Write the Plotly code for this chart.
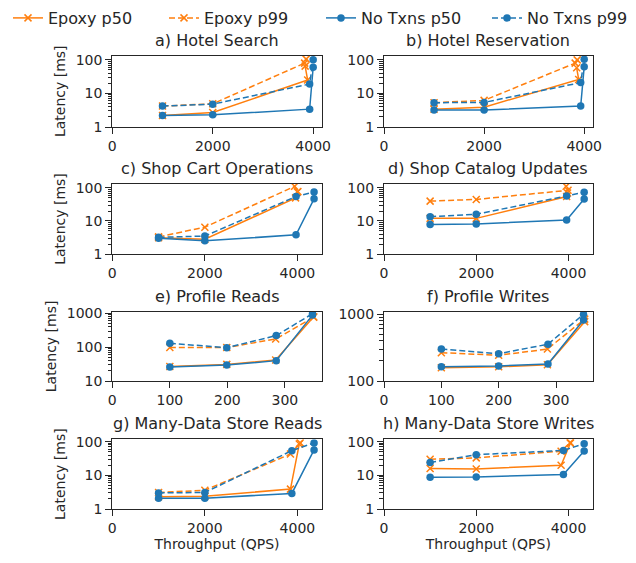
import math
import plotly.graph_objects as go
from plotly.subplots import make_subplots

# ---------------- data ----------------
titles = ["a) Hotel Search", "b) Hotel Reservation", "c) Shop Cart Operations",
          "d) Shop Catalog Updates", "e) Profile Reads", "f) Profile Writes",
          "g) Many-Data Store Reads", "h) Many-Data Store Writes"]
series_names = ["Epoxy p50", "Epoxy p99", "No Txns p50", "No Txns p99"]

# a) Hotel Search
a_x_ep50 = [1000, 2000, 3890, 3840]
a_ep50 = [2.2, 2.7, 25, 65]
a_x_ep99 = [1000, 2000, 3830, 3860]
a_ep99 = [4.2, 4.9, 80, 105]
a_x_nt = [1000, 2000, 3930, 4000]
a_nt50 = [2.2, 2.3, 3.4, 60]
a_nt99 = [4.2, 4.8, 19, 100]

# b) Hotel Reservation
b_x_ep50 = [1000, 2000, 3890, 3850]
b_ep50 = [3.4, 3.9, 26, 58]
b_x_ep99 = [1000, 2000, 3820, 3860]
b_ep99 = [5.3, 6.2, 80, 100]
b_x_nt = [1000, 2000, 3930, 4000]
b_nt50 = [3.2, 3.2, 4.2, 62]
b_nt99 = [5.3, 5.4, 21, 105]

# c) Shop Cart Operations
c_x_ep50 = [1000, 2000, 3960, 4000]
c_ep50 = [3.1, 2.8, 50, 75]
c_x_ep99 = [1000, 2000, 3940, 4010]
c_ep99 = [3.3, 6.5, 112, 78]
c_x_nt = [1000, 2000, 3970, 4360]
c_nt50 = [3.0, 2.5, 3.8, 47]
c_nt99 = [3.2, 3.5, 55, 76]

# d) Shop Catalog Updates
d_x_ep50 = [1000, 2000, 3960, 3980]
d_ep50 = [12, 12, 55, 70]
d_x_ep99 = [1000, 2000, 3990, 3950]
d_ep99 = [40, 45, 85, 112]
d_x_nt = [1000, 2000, 3960, 4340]
d_nt50 = [7.8, 8.1, 10.7, 46]
d_nt99 = [13.5, 16, 57, 74]

# e) Profile Reads
e_x_ep50 = [100, 199, 284, 350]
e_ep50 = [27, 31, 42, 800]
e_x_ep99 = [100, 199, 284, 350]
e_ep99 = [98, 98, 175, 770]
e_x_nt = [100, 199, 285, 348]
e_nt50 = [26, 29.5, 40, 890]
e_nt99 = [130, 97, 220, 980]

# f) Profile Writes
f_x_ep50 = [100, 200, 285, 350]
f_ep50 = [158, 163, 175, 770]
f_x_ep99 = [100, 200, 285, 350]
f_ep99 = [265, 242, 300, 840]
f_x_nt = [100, 200, 286, 348]
f_nt50 = [163, 168, 180, 815]
f_nt99 = [300, 256, 354, 990]

# g) Many-Data Store Reads
g_x_ep50 = [1000, 2000, 3850, 4040]
g_ep50 = [2.3, 2.4, 3.9, 85]
g_x_ep99 = [1000, 2000, 3850, 4060]
g_ep99 = [3.1, 3.6, 43, 92]
g_x_nt = [1000, 2000, 3880, 4360]
g_nt50 = [2.1, 2.1, 2.9, 57]
g_nt99 = [3.0, 3.1, 54, 92]

# h) Many-Data Store Writes
h_x_ep50 = [1000, 2000, 3840, 4040]
h_ep50 = [16, 15.5, 20, 90]
h_x_ep99 = [1000, 2000, 3840, 4040]
h_ep99 = [30, 33, 52, 95]
h_x_nt = [1000, 2000, 3890, 4340]
h_nt50 = [8.8, 8.9, 10.6, 53]
h_nt99 = [24, 41, 55, 87]

panels = [
    (a_x_ep50, a_ep50, a_x_ep99, a_ep99, a_x_nt, a_nt50, a_nt99),
    (b_x_ep50, b_ep50, b_x_ep99, b_ep99, b_x_nt, b_nt50, b_nt99),
    (c_x_ep50, c_ep50, c_x_ep99, c_ep99, c_x_nt, c_nt50, c_nt99),
    (d_x_ep50, d_ep50, d_x_ep99, d_ep99, d_x_nt, d_nt50, d_nt99),
    (e_x_ep50, e_ep50, e_x_ep99, e_ep99, e_x_nt, e_nt50, e_nt99),
    (f_x_ep50, f_ep50, f_x_ep99, f_ep99, f_x_nt, f_nt50, f_nt99),
    (g_x_ep50, g_ep50, g_x_ep99, g_ep99, g_x_nt, g_nt50, g_nt99),
    (h_x_ep50, h_ep50, h_x_ep99, h_ep99, h_x_nt, h_nt50, h_nt99),
]

# axis ranges (x linear, y log10)
x_ranges = [[0, 4170], [0, 4170], [0, 4525], [0, 4525],
            [0, 364], [0, 364], [0, 4525], [0, 4525]]
x_ticks = [[0, 2000, 4000]] * 4 + [[0, 100, 200, 300]] * 2 + [[0, 2000, 4000]] * 2
y_ranges = [[0, 2.13], [0, 2.13], [0, 2.12], [0, 2.12],
            [1, 3.05], [2, 3.035], [0, 2.07], [0, 2.07]]

# ---------------- figure ----------------
# the page body has an 8px default margin; size the figure so it fills the window
OFF = 8
W, H = 636 - OFF, 563 - OFF
BLUE = "#1f77b4"
ORANGE = "#ff7f0e"
TXT = "#262626"
FONT = "DejaVu Sans"

# target pixel positions in the window
col_px = [(112.3, 321.7), (384.0, 592.7)]
row_px = [(55.5, 127.0), (184.0, 254.0), (311.7, 381.0), (439.3, 509.0)]


def px_x(v):
    return (v - OFF) / W


def px_y(v):
    return 1 - (v - OFF) / H


fig = make_subplots(rows=4, cols=2)

styles = [
    dict(name=series_names[0], color=ORANGE, dash="solid", symbol="x-thin", legend="legend"),
    dict(name=series_names[1], color=ORANGE, dash="6px,3px", symbol="x-thin", legend="legend2"),
    dict(name=series_names[2], color=BLUE, dash="solid", symbol="circle", legend="legend3"),
    dict(name=series_names[3], color=BLUE, dash="6px,3px", symbol="circle", legend="legend4"),
]

for i, p in enumerate(panels):
    r, c = i // 2 + 1, i % 2 + 1
    xe50, ye50, xe99, ye99, xnt, yn50, yn99 = p
    data = [(xe50, ye50), (xe99, ye99), (xnt, yn50), (xnt, yn99)]
    for k, (xs, ys) in enumerate(data):
        st = styles[k]
        if st["symbol"] == "circle":
            mk = dict(symbol="circle", size=7.5, color=st["color"])
        else:
            mk = dict(symbol="x-thin", size=7, color=st["color"],
                      line=dict(color=st["color"], width=1.5))
        fig.add_trace(go.Scatter(
            x=xs, y=ys, mode="lines+markers", name=st["name"],
            line=dict(color=st["color"], width=1.5, dash=st["dash"]),
            marker=mk, showlegend=(i == 0), legend=st["legend"]),
            row=r, col=c)

    x0, x1 = col_px[c - 1]
    y0, y1 = row_px[r - 1]
    xdom = [px_x(x0), px_x(x1)]
    ydom = [px_y(y1), px_y(y0)]
    lo, hi = y_ranges[i]
    dec_lo, dec_hi = math.floor(lo), math.floor(hi + 1e-9)
    major = [10 ** k for k in range(dec_lo, dec_hi + 1) if lo - 1e-9 <= k <= hi + 1e-9]
    minor = [m * 10 ** k for k in range(dec_lo, dec_hi + 1) for m in range(2, 10)
             if lo <= math.log10(m * 10 ** k) <= hi]
    fig.update_xaxes(row=r, col=c, domain=xdom, range=x_ranges[i], automargin=False,
                     tickvals=x_ticks[i], ticktext=[str(v) for v in x_ticks[i]],
                     showline=True, mirror=True, linecolor=TXT, linewidth=1.2,
                     ticks="outside", ticklen=6, tickwidth=1.2, tickcolor=TXT,
                     showgrid=False, zeroline=False,
                     tickfont=dict(size=14, color=TXT, family=FONT))
    fig.update_yaxes(row=r, col=c, domain=ydom, type="log", range=[lo, hi], automargin=False,
                     tickvals=major, ticktext=[str(v) for v in major],
                     minor=dict(tickmode="array", tickvals=minor, ticks="outside",
                                ticklen=3.5, tickwidth=1, tickcolor=TXT, showgrid=False),
                     showline=True, mirror=True, linecolor=TXT, linewidth=1.2,
                     ticks="outside", ticklen=6, tickwidth=1.2, tickcolor=TXT,
                     showgrid=False, zeroline=False,
                     tickfont=dict(size=14, color=TXT, family=FONT))
    if c == 1:
        fig.update_yaxes(row=r, col=c, title=dict(text="Latency [ms]", standoff=6,
                                                  font=dict(size=14, color=TXT, family=FONT)))
    if r == 4:
        fig.update_xaxes(row=r, col=c, title=dict(text="Throughput (QPS)", standoff=4,
                                                  font=dict(size=14, color=TXT, family=FONT)))
    fig.add_annotation(text=titles[i], xref="paper", yref="paper",
                       x=(xdom[0] + xdom[1]) / 2, y=ydom[1], yanchor="bottom",
                       xanchor="center", yshift=4, showarrow=False,
                       font=dict(size=16, color=TXT, family=FONT))

leg_common = dict(orientation="h", yanchor="middle", xanchor="left",
                  y=px_y(18), font=dict(size=16, color=TXT, family=FONT),
                  bgcolor="rgba(0,0,0,0)", borderwidth=0, itemwidth=30)
fig.update_layout(
    width=W, height=H, margin=dict(l=0, r=0, t=0, b=0, autoexpand=False),
    paper_bgcolor="white", plot_bgcolor="white",
    font=dict(family=FONT, color=TXT),
    legend=dict(x=0.0, **leg_common),
    legend2=dict(x=156 / W, **leg_common),
    legend3=dict(x=313 / W, **leg_common),
    legend4=dict(x=479 / W, **leg_common),
)

fig.write_html("out.html")
